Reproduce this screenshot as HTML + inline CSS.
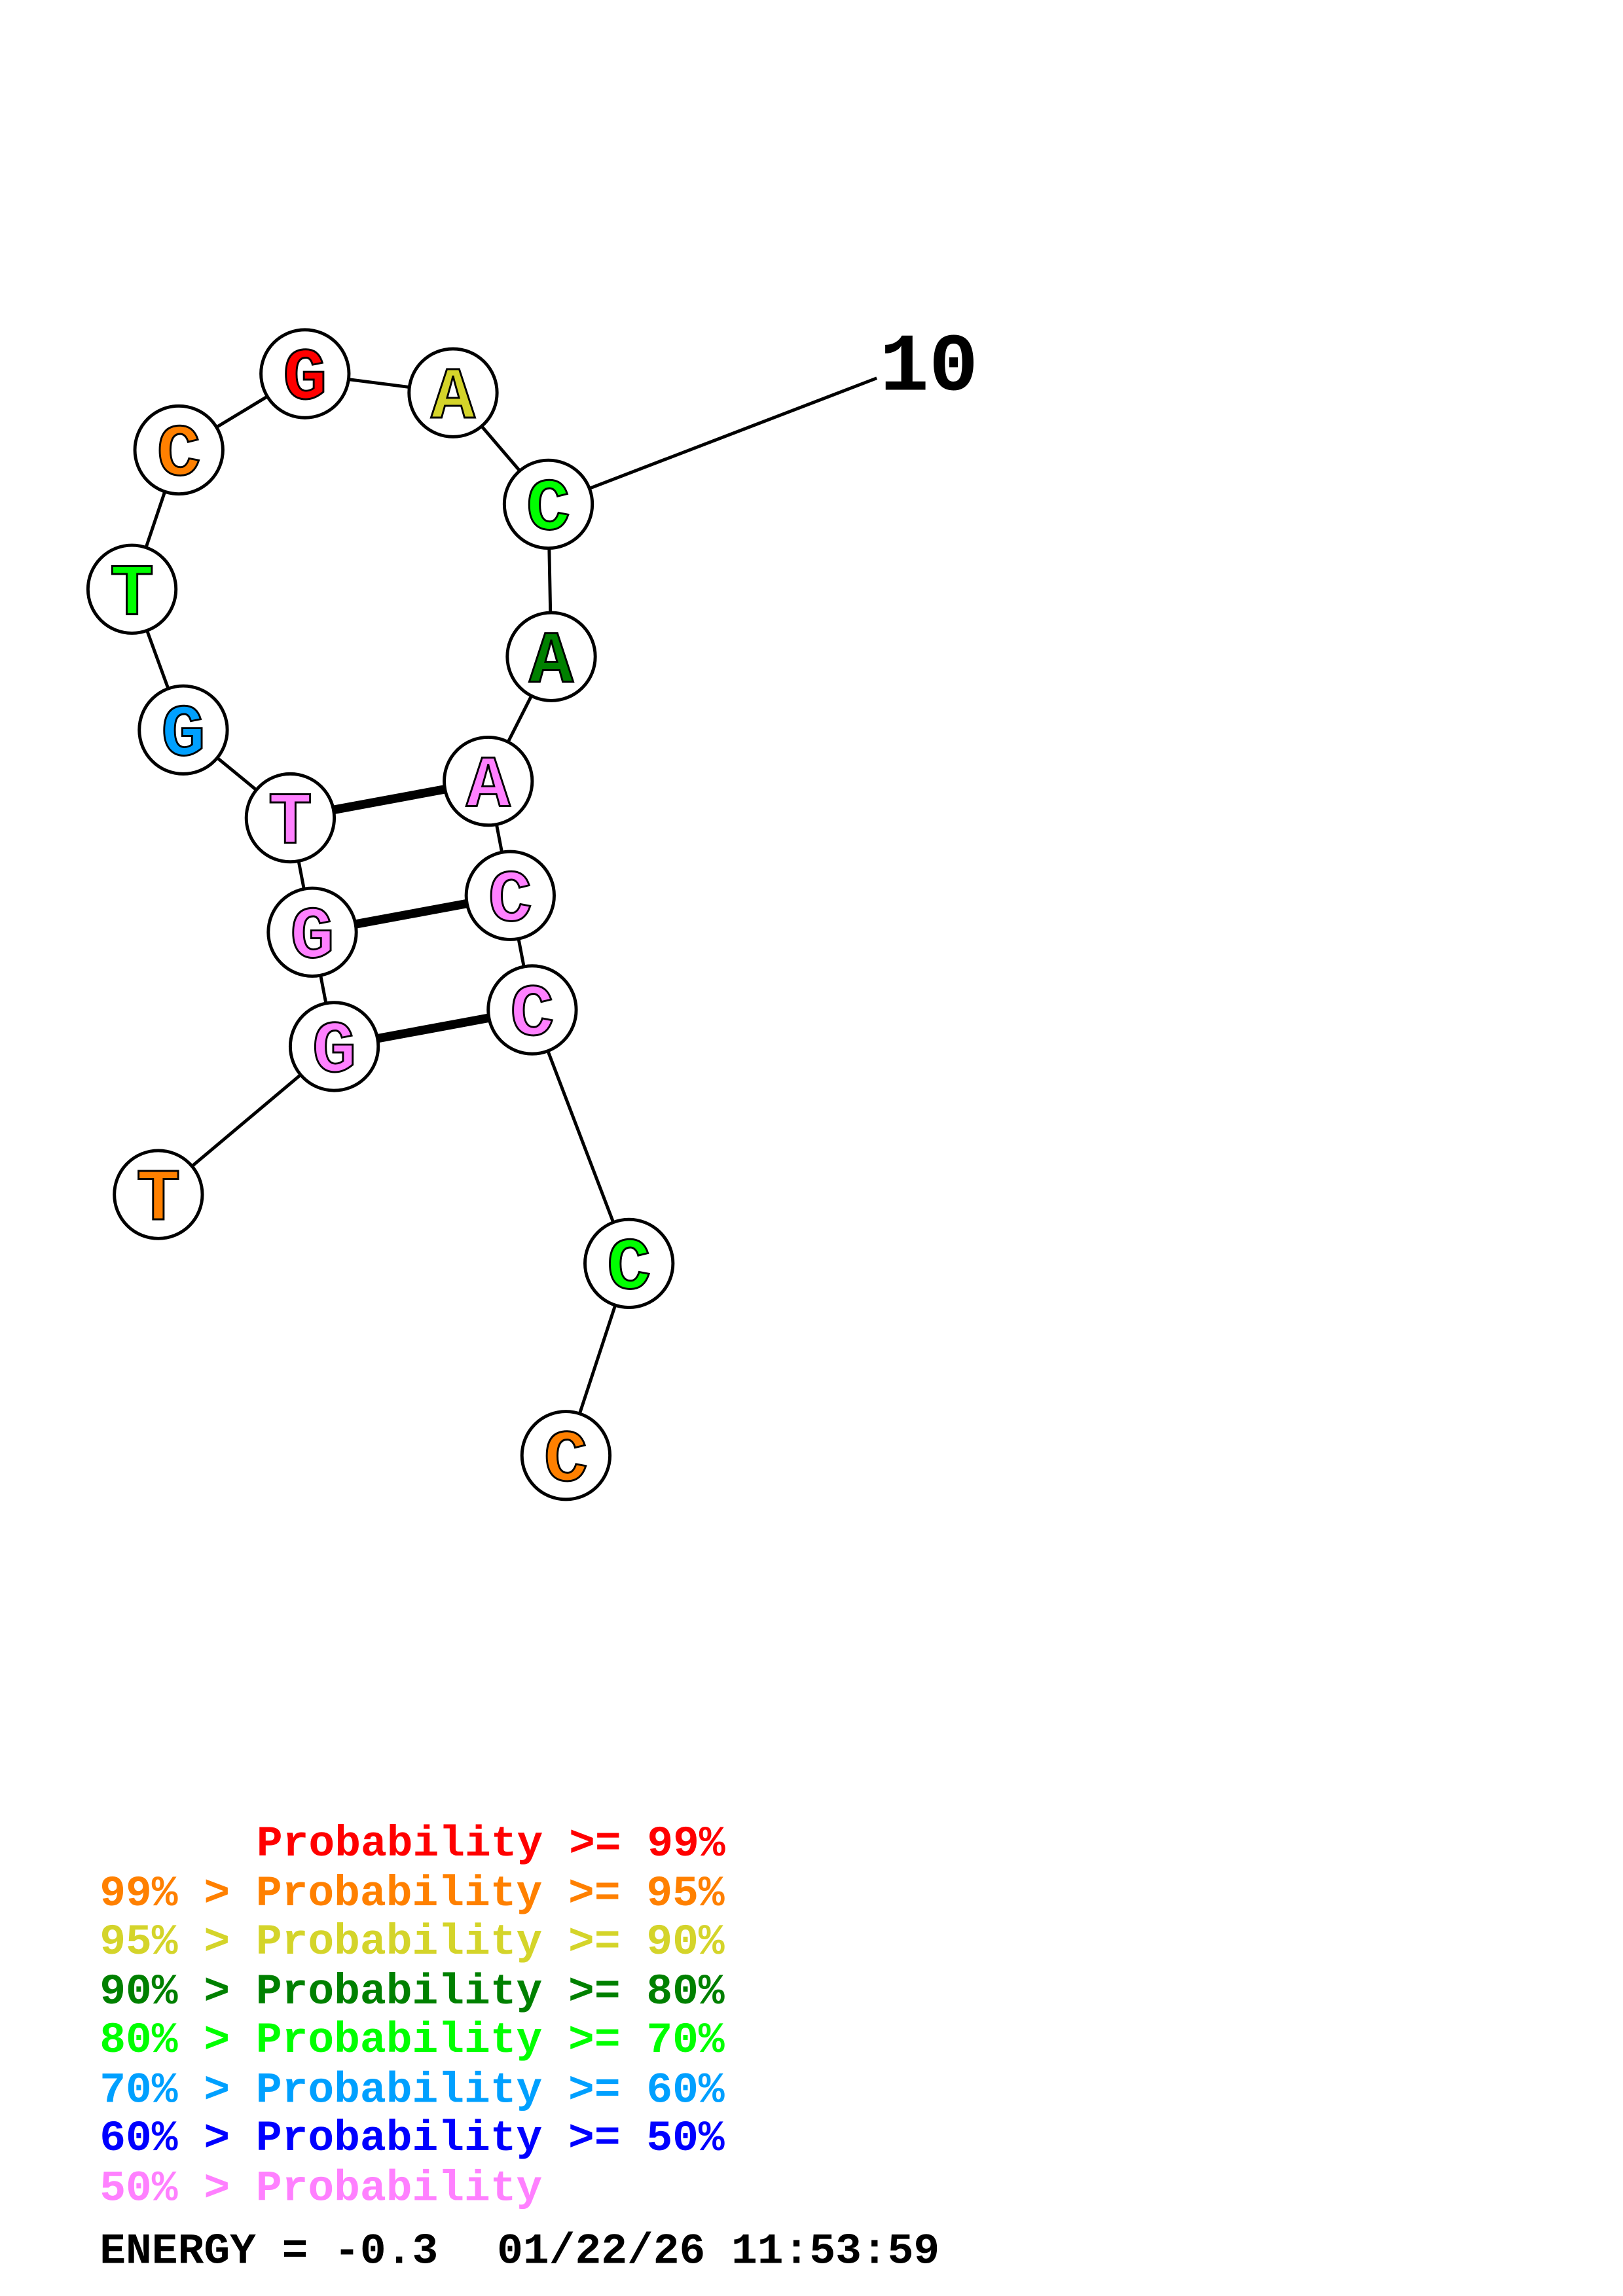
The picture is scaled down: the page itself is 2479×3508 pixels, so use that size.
<!DOCTYPE html>
<html><head><meta charset="utf-8"><style>
html,body{margin:0;padding:0;background:#fff;}
svg{display:block;}
text{font-family:"Liberation Mono",monospace;font-weight:bold;}
</style></head><body>
<svg width="2479" height="3508" viewBox="0 0 1107 1566.5" xmlns="http://www.w3.org/2000/svg">
<rect width="1107" height="1567" fill="#fff"/>
<g stroke="#000" stroke-width="2.2" fill="none">
<line x1="374" y1="344" x2="598" y2="258"/>
<polyline points="108,815 228,714 213,636 198,558 125,498 90,402 122,307 208,255 309,268 374,344 376,448 333,533 348,611 363,689 429,862 386,993"/>
</g>
<g stroke="#000" stroke-width="6">
<line x1="198" y1="558" x2="333" y2="533"/>
<line x1="213" y1="636" x2="348" y2="611"/>
<line x1="228" y1="714" x2="363" y2="689"/>
</g>
<g stroke="#000" stroke-width="2.2" fill="#fff">
<circle cx="208" cy="255" r="30"/><circle cx="309" cy="268" r="30"/><circle cx="374" cy="344" r="30"/>
<circle cx="376" cy="448" r="30"/><circle cx="333" cy="533" r="30"/><circle cx="348" cy="611" r="30"/>
<circle cx="363" cy="689" r="30"/><circle cx="429" cy="862" r="30"/><circle cx="386" cy="993" r="30"/>
<circle cx="108" cy="815" r="30"/><circle cx="228" cy="714" r="30"/><circle cx="213" cy="636" r="30"/>
<circle cx="198" cy="558" r="30"/><circle cx="125" cy="498" r="30"/><circle cx="90" cy="402" r="30"/>
<circle cx="122" cy="307" r="30"/>
</g>
<g font-size="50" text-anchor="middle" stroke="#000" stroke-width="1.3">
<text x="208" y="272" fill="#ff0000">G</text>
<text x="309" y="285" fill="#d4d42a">A</text>
<text x="374" y="361" fill="#00ff00">C</text>
<text x="376" y="465" fill="#008000">A</text>
<text x="333" y="550" fill="#ff80ff">A</text>
<text x="348" y="628" fill="#ff80ff">C</text>
<text x="363" y="706" fill="#ff80ff">C</text>
<text x="429" y="879" fill="#00ff00">C</text>
<text x="386" y="1010" fill="#ff8000">C</text>
<text x="108" y="832" fill="#ff8000">T</text>
<text x="228" y="731" fill="#ff80ff">G</text>
<text x="213" y="653" fill="#ff80ff">G</text>
<text x="198" y="575" fill="#ff80ff">T</text>
<text x="125" y="515" fill="#00a0ff">G</text>
<text x="90" y="419" fill="#00ff00">T</text>
<text x="122" y="324" fill="#ff8000">C</text>
</g>
<text x="600" y="266" font-size="56" fill="#000">10</text>
<g font-size="29.6">
<text x="175" y="1266" fill="#ff0000">Probability &gt;= 99%</text>
<text x="68" y="1300" fill="#ff8000">99% &gt; Probability &gt;= 95%</text>
<text x="68" y="1333" fill="#d4d42a">95% &gt; Probability &gt;= 90%</text>
<text x="68" y="1367" fill="#008000">90% &gt; Probability &gt;= 80%</text>
<text x="68" y="1400" fill="#00ff00">80% &gt; Probability &gt;= 70%</text>
<text x="68" y="1434" fill="#00a0ff">70% &gt; Probability &gt;= 60%</text>
<text x="68" y="1467" fill="#0000ff">60% &gt; Probability &gt;= 50%</text>
<text x="68" y="1501" fill="#ff80ff">50% &gt; Probability</text>
<text x="68" y="1544" fill="#000">ENERGY = -0.3</text>
<text x="339" y="1544" fill="#000">01/22/26 11:53:59</text>
</g>
</svg>
</body></html>
